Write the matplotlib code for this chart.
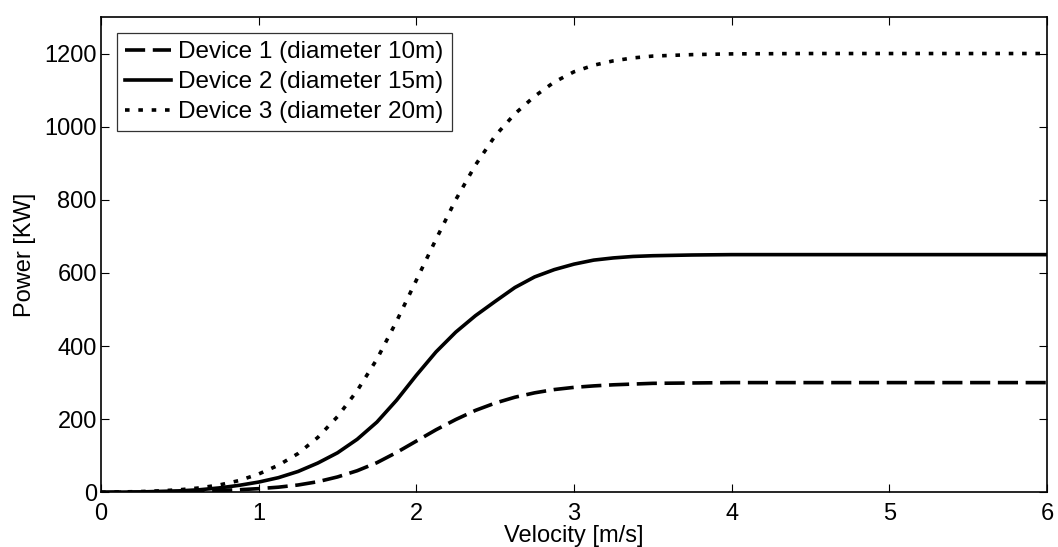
import numpy as np
import matplotlib.pyplot as plt

plt.rcParams['font.family'] = ['Liberation Sans', 'DejaVu Sans']
plt.rcParams['lines.scale_dashes'] = False

# velocity samples [m/s]
velocity = [0, 0.125, 0.25, 0.375, 0.5, 0.625, 0.75, 0.875, 1.0, 1.125, 1.25,
            1.375, 1.5, 1.625, 1.75, 1.875, 2.0, 2.125, 2.25, 2.375, 2.5,
            2.625, 2.75, 2.875, 3.0, 3.125, 3.25, 3.375, 3.5, 3.75, 4.0,
            4.5, 5.0, 5.5, 6.0]

# power [KW]
device1 = [0, 0.2, 0.5, 1, 2, 3, 5, 7, 10, 14, 20,
           29, 42, 59, 81, 109, 140, 171, 199, 224, 244,
           260, 272, 281, 287, 291, 294, 296, 298, 299, 300,
           300, 300, 300, 300]
device2 = [0, 0.5, 1, 2.5, 4, 7, 12, 19, 28, 40, 57,
           80, 108, 145, 192, 252, 320, 384, 438, 483, 522,
           560, 589, 609, 624, 635, 641, 645, 647, 649, 650,
           650, 650, 650, 650]
device3 = [0, 1, 2, 4, 7, 12, 20, 32, 50, 74, 106,
           150, 207, 278, 364, 468, 580, 692, 800, 895, 975,
           1035, 1083, 1122, 1150, 1168, 1180, 1188, 1193, 1197, 1199,
           1200, 1200, 1200, 1200]

labels = ['Device 1 (diameter 10m)', 'Device 2 (diameter 15m)',
          'Device 3 (diameter 20m)']

fig = plt.figure(figsize=(10.58, 5.47), dpi=100)
ax = fig.add_axes([0.0955, 0.1, 0.894, 0.869])

ax.plot(velocity, device1, color='black', lw=2.6, linestyle=(0, (14.5, 5.5)),
        label=labels[0])
ax.plot(velocity, device2, color='black', lw=2.6, linestyle='-',
        label=labels[1])
ax.plot(velocity, device3, color='black', lw=2.6, linestyle=(0, (3.3, 6.3)),
        label=labels[2])

ax.set_xlim(0, 6)
ax.set_ylim(0, 1300)
ax.set_xticks(range(0, 7))
ax.set_yticks(range(0, 1201, 200))
ax.tick_params(direction='in', length=6, width=0.8, labelsize=17,
               top=True, right=True, pad=3)
ax.tick_params(axis='x', pad=8)
for s in ax.spines.values():
    s.set_linewidth(1.2)

ax.set_xlabel('Velocity [m/s]', fontsize=17, labelpad=0)
ax.set_ylabel('Power [KW]', fontsize=17, labelpad=6)

leg = ax.legend(loc='upper left', fontsize=17.5, frameon=True, fancybox=False,
                edgecolor='black', handlelength=1.9, handletextpad=0.28,
                borderpad=0.34, labelspacing=0.33, borderaxespad=0.65)
leg.get_frame().set_linewidth(0.9)

fig.savefig('out.png', dpi=100)
